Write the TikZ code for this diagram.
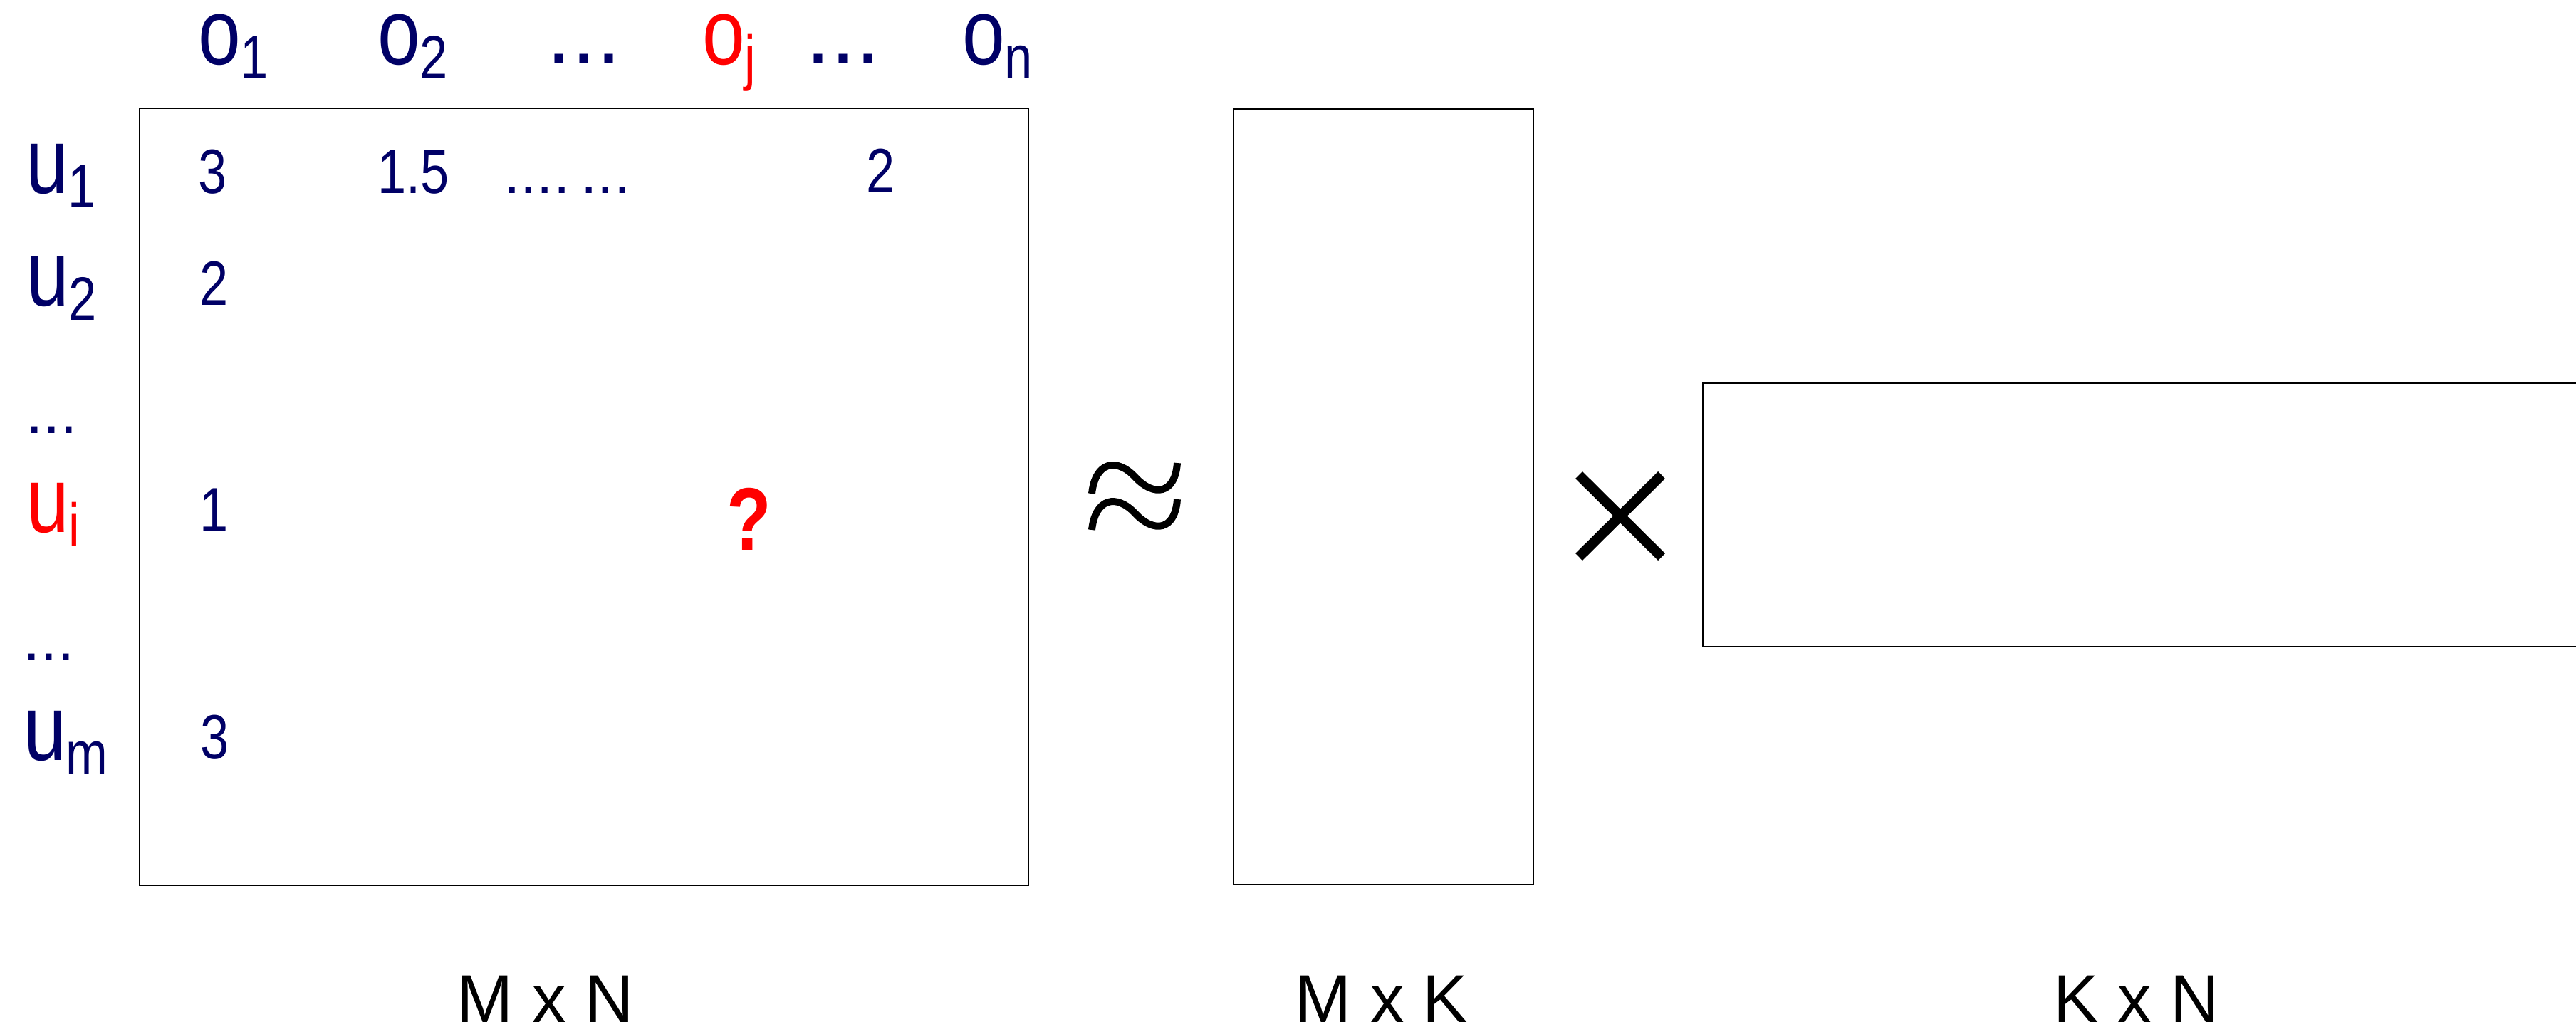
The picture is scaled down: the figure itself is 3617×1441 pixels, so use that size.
\documentclass[tikz,border=0pt]{standalone}
\usepackage{fontspec}
\setmainfont{Liberation Sans}
\newfontfamily\narrowfam{Liberation Sans}[FakeStretch=0.82]
\definecolor{navy}{RGB}{0,0,102}
\definecolor{qred}{RGB}{255,0,0}
\newcommand\lblsize{\narrowfam\fontsize{131pt}{131pt}\selectfont}
\newcommand\subsize{\narrowfam\fontsize{86pt}{86pt}\selectfont}
\newcommand\numsize{\narrowfam\fontsize{88pt}{88pt}\selectfont}
\newcommand\lowsub[1]{\raisebox{-20pt}{\subsize #1}}
\begin{document}
\begin{tikzpicture}[x=1pt,y=-1pt,
  txt/.style={anchor=base west,inner sep=0pt,outer sep=0pt,text=navy},
  hot/.style={txt,text=qred},
  toprow/.style={text height=72pt,text depth=40pt},
  dimlbl/.style={anchor=base,inner sep=0pt,outer sep=0pt,text=black,text height=70pt,text depth=0pt,font=\fontsize{95pt}{95pt}\selectfont},
  mat/.style={draw=black,line width=2.5pt},
  approxsym/.style={draw=black,line width=10pt,line cap=butt},
  timessym/.style={draw=black,line width=14pt,line cap=butt}]
\useasboundingbox (0,0) rectangle (3617,1441);

% column labels
\node[txt,toprow] (o1) at (278,90) {\lblsize o\lowsub{1}};
\node[txt,toprow] (o2) at (530,90) {\lblsize o\lowsub{2}};
\node[txt,toprow] (dotsA) at (767,89) {\fontsize{126pt}{126pt}\selectfont ...};
\node[hot,toprow] (oj) at (986,90) {\lblsize o\lowsub{j}};
\node[txt,toprow] (dotsB) at (1131,89) {\fontsize{126pt}{126pt}\selectfont ...};
\node[txt,toprow] (on) at (1351,90) {\lblsize o\lowsub{n}};

% row labels
\node[txt] (u1) at (36,271) {\lblsize u\lowsub{1}};
\node[txt] (u2) at (37,429) {\lblsize u\lowsub{2}};
\node[txt] (rdA) at (36,608) {\fontsize{88pt}{88pt}\selectfont ...};
\node[hot] (ui) at (37,747) {\lblsize u\lowsub{i}};
\node[txt] (rdB) at (32,927) {\fontsize{88pt}{88pt}\selectfont ...};
\node[txt] (um) at (33,1067) {\lblsize u\lowsub{m}};

% matrix entries
\node[txt] (a11) at (278,271) {\numsize 3};
\node[txt] (a12) at (530,271) {\numsize 1.5};
\node[txt] (a1d) at (707,271) {\fontsize{84pt}{84pt}\selectfont ....\hspace{15pt}...};
\node[txt] (a1j) at (1216,270) {\numsize 2};
\node[txt] (a21) at (280,428) {\numsize 2};
\node[txt] (ai1) at (280,746) {\numsize 1};
\node[hot,anchor=base] (q) at (1052,772) {\narrowfam\bfseries\fontsize{125pt}{125pt}\selectfont ?};
\node[txt] (am1) at (281,1065) {\numsize 3};

% matrices
\draw[mat] (196,152) rectangle (1444,1243);
\draw[mat] (1732,153) rectangle (2153,1242);
\draw[mat] (3617,538) -- (2391,538) -- (2391,908) -- (3617,908);

% approx symbol
\draw[approxsym] (1533,693) .. controls (1538,648) and (1568,642) .. (1594,670)
  .. controls (1620,698) and (1650,694) .. (1653,650);
\draw[approxsym] (1533,744) .. controls (1538,699) and (1568,693) .. (1594,721)
  .. controls (1620,749) and (1650,745) .. (1653,701);

% times symbol
\draw[timessym] (2217,667) -- (2333,782);
\draw[timessym] (2333,667) -- (2217,782);

% dimension labels
\node[dimlbl] (dMN) at (766,1435) {M x N};
\node[dimlbl] (dMK) at (1940,1435) {M x K};
\node[dimlbl] (dKN) at (3000,1435) {K x N};
\end{tikzpicture}
\end{document}
